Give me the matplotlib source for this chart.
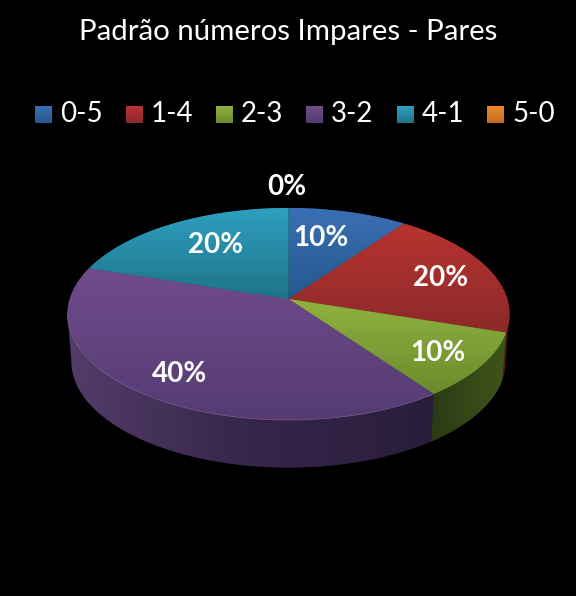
import numpy as np
import matplotlib.pyplot as plt
from matplotlib.colors import LinearSegmentedColormap
from matplotlib.patches import Polygon

plt.rcParams['font.family'] = ['Lato', 'DejaVu Sans']

# data
categories = ['0-5', '1-4', '2-3', '3-2', '4-1', '5-0']
values = [10, 20, 10, 40, 20, 0]
pct_labels = ['10%', '20%', '10%', '40%', '20%', '0%']

top_colors = [('#3a70b4', '#25588f'), ('#b83431', '#8c2929'), ('#90b23f', '#6c8a2d'),
              ('#704c8c', '#553b72'), ('#2f9fc0', '#1e7488'), ('#f08a2c', '#c46c1c')]
side_colors = [('#1c3557', '#1c3557'), ('#5a1a1a', '#3a1010'), ('#2a3a14', '#3e5519'),
               ('#533c69', '#35264a', '#291d3b'), ('#14505f', '#14505f'), ('#7a4410', '#7a4410')]
legend_x = [35, 126, 216, 306, 397, 487]
label_xy = [(321, 238), (441, 278), (438, 353), (180, 374), (216, 245), (287, 187)]

# pie geometry in pixels, perspective circle -> ellipse
cx, cy = 288.5, 299.
k = 0.1415
a = 103.9
b = 218.8
depth = 47.5
shrink = 0.982


def project(ang):
    x = np.sin(ang)
    y = np.cos(ang)
    w = 1 + k * y
    return cx + b * x / w, cy - a * y / w


def bottom(ang):
    px, py = project(ang)
    return cx + (px - cx) * shrink, cy + depth + (py - cy)


def shade(ax, pts, colors, horizontal=False):
    poly = Polygon(pts, closed=True, fc=colors[-1], ec='none', transform=ax.transData)
    ax.add_patch(poly)
    xs, ys = pts[:, 0], pts[:, 1]
    cmap = LinearSegmentedColormap.from_list('g', list(colors))
    grad = np.linspace(0, 1, 256)
    grad = grad[None, :] if horizontal else grad[:, None]
    im = ax.imshow(grad, cmap=cmap, aspect='auto', vmin=0, vmax=1,
                   extent=(xs.min(), xs.max(), ys.max(), ys.min()), zorder=poly.get_zorder() + 0.1,
                   interpolation='bilinear')
    im.set_clip_path(poly)
    return poly


fig = plt.figure(figsize=(5.76, 5.96), dpi=100, facecolor='black')
ax = fig.add_axes([0, 0, 1, 1])
ax.set_facecolor('black')
ax.axis('off')

edges = 2 * np.pi * np.cumsum([0] + values) / sum(values)

# walls: only the front part of the rim is visible
vis0, vis1 = np.radians(98), np.radians(262)
for i in range(len(values)):
    t0 = max(edges[i], vis0)
    t1 = min(edges[i + 1], vis1)
    if t1 <= t0:
        continue
    t = np.linspace(t0, t1, 80)
    tx, ty = project(t)
    bx, by = bottom(t[::-1])
    pts = np.column_stack([np.r_[tx, bx], np.r_[ty, by]])
    shade(ax, pts, side_colors[i], horizontal=True)

# top face
for i in range(len(values)):
    if values[i] == 0:
        continue
    t = np.linspace(edges[i], edges[i + 1], 120)
    tx, ty = project(t)
    pts = np.column_stack([np.r_[cx, tx], np.r_[cy, ty]])
    shade(ax, pts, top_colors[i])

# thin light rim on the front of the purple slice
t = np.linspace(edges[3], vis1, 120)
rx, ry = project(t)
ax.plot(rx, ry, color='#8a70a5', lw=0.6, alpha=0.6, zorder=3)

# percent labels
for (lx, ly), txt in zip(label_xy, pct_labels):
    ax.text(lx, ly, txt, color='white', fontsize=20, fontweight='bold',
            ha='center', va='center', zorder=5)

ax.text(288, 32, 'Padrão números Impares - Pares', color='white', fontsize=21.2,
        ha='center', va='center', zorder=5)

# legend
for i, name in enumerate(categories):
    sx = legend_x[i]
    cmap = LinearSegmentedColormap.from_list('s', [top_colors[i][0], top_colors[i][1]])
    ax.imshow(np.linspace(0, 1, 32)[:, None], cmap=cmap, aspect='auto',
              extent=(sx, sx + 17, 123, 106), zorder=4)
    ax.text(sx + 25, 114.5, name, color='white', fontsize=20, ha='left', va='center', zorder=5)

ax.set_xlim(0, 576)
ax.set_ylim(596, 0)

fig.savefig('out.png', dpi=100, facecolor='black')
